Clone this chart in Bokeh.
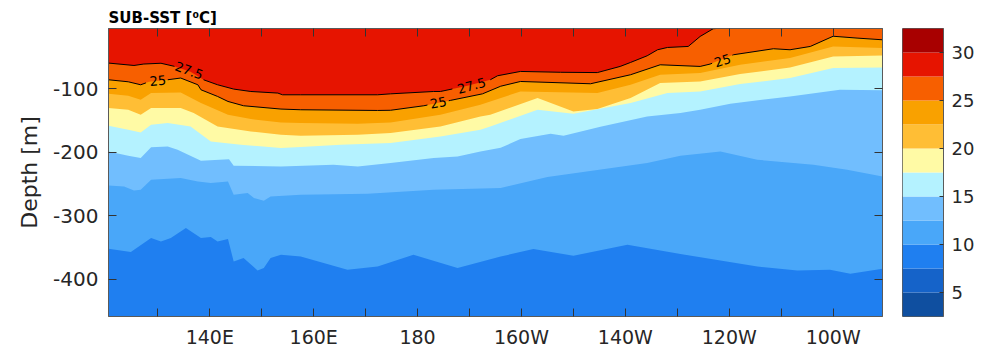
import numpy as np
from bokeh.plotting import figure
from bokeh.models import Range1d, FixedTicker, LinearAxis
from bokeh.layouts import row
from bokeh.embed import file_html
from bokeh.resources import INLINE
from bokeh.core.properties import value

# ---------------- data ----------------
levels = [2.5, 5, 7.5, 10, 12.5, 15, 17.5, 20, 22.5, 25, 27.5, 30, 32.5]
band_colors = ["#0f4fa0", "#1563c9", "#1f7ff0", "#49a7f9", "#71befe", "#b4f2ff",
               "#fffaa5", "#ffbe35", "#f9a100", "#f75f00", "#e61400", "#a80000"]

# depth (m, negative) of each isotherm versus longitude (deg E)
lon_275 = [120.5, 125.4, 127.3, 130.6, 133.1, 136.3, 138.8, 141.5, 144.6, 147.9, 153.1, 154.0,
           157.5, 172.3, 174.8, 183.1, 184.4, 189.6, 194.0, 195.4, 199.8, 207.5, 214.6, 219.0,
           221.0, 224.2, 226.2, 228.1, 232.1, 234.4, 236.9, 237.5]
dep_275 = [-59.5, -63.3, -61.0, -59.8, -64.5, -73.0, -85.8, -93.7, -100.5, -104.3, -106.8, -109.5,
           -109.5, -109.5, -108.0, -104.3, -104.3, -95.3, -85.8, -79.5, -72.7, -74.0, -74.5, -64.8,
           -58.5, -48.0, -38.5, -34.9, -33.3, -17.5, -5.4, -5.0]

lon_25 = [120.5, 124.3, 126.7, 128.3, 131.9, 134.4, 137.7, 138.3, 141.5, 143.5, 146.5, 153.7,
          157.5, 172.3, 174.8, 181.2, 186.3, 192.5, 196.0, 199.8, 213.3, 221.0, 226.7, 234.4,
          236.3, 240.8, 248.5, 251.7, 255.6, 260.0, 264.6, 269.5]
dep_25 = [-85.8, -89.0, -93.7, -89.0, -85.8, -83.1, -93.7, -101.6, -112.1, -120.0, -126.8, -132.0,
          -133.1, -134.2, -133.9, -126.8, -118.4, -108.0, -96.0, -88.5, -92.1, -77.9, -62.2, -64.8,
          -61.1, -46.4, -36.9, -38.5, -33.3, -17.2, -20.1, -22.8]

lon_225 = [120.5, 124.3, 126.7, 128.7, 134.4, 138.3, 143.5, 147.9, 153.7, 157.5, 168.5, 174.8,
           184.4, 192.1, 199.8, 214.6, 221.0, 226.7, 234.4, 242.1, 251.7, 260.0, 269.5]
dep_225 = [-107.9, -111.0, -117.3, -106.8, -105.8, -122.5, -141.0, -147.8, -153.1, -154.1, -155.2,
           -153.1, -141.0, -125.2, -104.3, -106.8, -93.7, -77.9, -75.2, -62.2, -51.6, -33.3, -35.8]

lon_20 = [120.5, 124.3, 126.7, 128.7, 134.4, 136.9, 141.5, 147.9, 153.7, 157.5, 168.5, 174.8,
          184.4, 192.1, 194.0, 203.1, 210.0, 214.6, 221.0, 226.7, 234.4, 242.1, 251.7, 260.0, 269.5]
dep_20 = [-130.4, -133.1, -141.0, -130.4, -130.4, -138.3, -159.4, -167.3, -172.5, -174.1, -172.5,
          -169.8, -159.4, -143.7, -141.0, -114.7, -135.8, -132.0, -114.7, -91.0, -88.5, -76.8,
          -66.4, -49.1, -47.5]

lon_175 = [120.5, 124.3, 126.7, 128.7, 131.9, 136.3, 140.2, 146.0, 153.7, 157.5, 165.2, 174.8,
           184.4, 192.1, 194.0, 203.1, 210.0, 221.0, 228.1, 234.4, 242.1, 251.7, 260.0, 269.5]
dep_175 = [-158.3, -164.6, -168.9, -156.8, -154.1, -159.4, -183.1, -188.3, -193.5, -191.9, -188.3,
           -185.6, -175.2, -164.6, -159.4, -133.1, -139.4, -122.5, -106.8, -104.3, -92.6, -83.1,
           -67.4, -66.4]

lon_15 = [120.5, 124.3, 126.7, 128.7, 131.9, 133.8, 138.3, 143.7, 144.6, 153.7, 163.8, 168.5,
          174.8, 183.1, 187.7, 192.1, 196.0, 199.8, 205.6, 208.1, 215.2, 224.2, 230.6, 234.4,
          240.2, 251.7, 261.3, 269.5]
dep_15 = [-198.8, -205.6, -209.2, -192.2, -191.0, -196.2, -213.5, -211.1, -221.4, -222.5, -219.8,
          -222.5, -217.1, -209.2, -206.7, -198.8, -193.0, -179.3, -170.9, -174.1, -159.9, -143.7,
          -138.3, -133.1, -123.6, -112.1, -101.6, -102.4]

lon_125 = [120.5, 123.5, 125.4, 126.7, 128.7, 134.4, 137.7, 140.2, 143.5, 144.6, 147.3, 148.5,
           150.4, 151.7, 157.5, 170.4, 183.1, 196.0, 205.0, 224.2, 230.6, 238.3, 245.4, 256.2,
           262.7, 269.5]
dep_125 = [-252.4, -254.0, -260.3, -259.2, -243.5, -240.8, -246.1, -248.7, -246.1, -267.1, -264.4,
           -272.3, -276.6, -269.8, -267.1, -265.5, -259.2, -256.5, -239.2, -217.1, -205.6, -198.8,
           -211.9, -219.8, -227.7, -238.3]

lon_10 = [120.5, 124.8, 128.7, 130.6, 132.5, 135.4, 138.3, 140.2, 141.5, 143.5, 144.6, 146.5,
          149.2, 150.4, 151.7, 153.7, 157.5, 166.5, 172.3, 179.2, 187.7, 196.0, 202.3, 210.0,
          220.4, 230.6, 245.4, 253.1, 259.4, 263.3, 269.5]
dep_10 = [-352.2, -357.4, -335.4, -340.7, -335.4, -319.6, -335.4, -333.8, -340.7, -337.0, -372.3,
          -366.9, -386.5, -382.7, -366.9, -361.7, -364.4, -385.3, -380.1, -361.7, -382.7, -364.4,
          -352.7, -363.3, -346.0, -360.6, -380.1, -386.5, -385.3, -391.7, -383.8]

iso_levels = [27.5, 25, 22.5, 20, 17.5, 15, 12.5, 10]
iso_lons = [lon_275, lon_25, lon_225, lon_20, lon_175, lon_15, lon_125, lon_10]
iso_deps = [dep_275, dep_25, dep_225, dep_20, dep_175, dep_15, dep_125, dep_10]

x_major_ticks = [140, 160, 180, 200, 220, 240, 260]
x_minor_ticks = [130, 150, 170, 190, 210, 230, 250]
x_tick_labels = ["140E", "160E", "180", "160W", "140W", "120W", "100W"]
y_ticks = [-400, -300, -200, -100]
y_tick_labels = ["-400", "-300", "-200", "-100"]
cbar_ticks = [5, 10, 15, 20, 25, 30]

clabel_text = ["27.5", "25", "27.5", "25", "25"]
clabel_lon = [136.0, 130.0, 190.4, 184.0, 238.7]
clabel_dep = [-71.6, -87.4, -95.3, -122.0, -55.9]
clabel_angle = [-20, 5, 15, 11, 18]
gaps_275 = [(133.2, 138.8), (186.7, 194.0)]
gaps_25 = [(127.7, 131.9), (181.9, 186.0), (236.7, 240.6)]

X0, X1 = 120.5, 269.5
Y0, Y1 = -459.0, -5.0

FONT = "DejaVu Sans"
TXT = "#262626"
FRAME = "#5a5a5a"
TICK = "#333333"

# ---------------- main figure ----------------
p = figure(width=890, height=350, x_range=Range1d(X0, X1), y_range=Range1d(Y0, Y1),
           toolbar_location=None, output_backend="svg",
           min_border_left=108, min_border_right=8, min_border_top=28, min_border_bottom=33)
p.grid.visible = False
p.outline_line_color = FRAME
p.background_fill_color = "white"

# warmest band fills the whole section, colder bands stacked below each isotherm
p.quad(left=X0, right=X1, bottom=Y0, top=Y1,
       fill_color=band_colors[levels.index(27.5)], line_color=None)
for lev, lo, de in zip(iso_levels, iso_lons, iso_deps):
    xs = list(lo)
    ys = list(de)
    if xs[-1] < X1:
        xs.append(X1); ys.append(ys[-1])
    xs += [X1, X0]
    ys += [Y0, Y0]
    p.patch(xs, ys, fill_color=band_colors[levels.index(lev) - 1], line_color=None)


def split(lon, dep, gaps):
    lon = np.asarray(lon, float)
    dep = np.asarray(dep, float)
    edges = [lon[0]] + [g for gap in gaps for g in gap] + [lon[-1]]
    xs, ys = [], []
    for a, b in zip(edges[0::2], edges[1::2]):
        m = (lon > a) & (lon < b)
        xs.append([a] + list(lon[m]) + [b])
        ys.append([float(np.interp(a, lon, dep))] + list(dep[m]) + [float(np.interp(b, lon, dep))])
    return xs, ys


for lo, de, gp in [(lon_275, dep_275, gaps_275), (lon_25, dep_25, gaps_25)]:
    sx, sy = split(lo, de, gp)
    p.multi_line(sx, sy, line_color="black", line_width=1)

p.text(x=clabel_lon, y=clabel_dep, text=clabel_text,
       angle=[np.deg2rad(a) for a in clabel_angle],
       text_font=value(FONT), text_font_size="13px", text_color="black",
       text_align="center", text_baseline="middle")

# axes
p.xaxis.ticker = FixedTicker(ticks=x_major_ticks, minor_ticks=x_minor_ticks)
p.xaxis.major_label_overrides = dict(zip(x_major_ticks, x_tick_labels))
p.yaxis.ticker = FixedTicker(ticks=y_ticks, minor_ticks=[])
p.yaxis.major_label_overrides = dict(zip(y_ticks, y_tick_labels))
p.yaxis.axis_label = "Depth [m]"
for ax in [p.xaxis[0], p.yaxis[0]]:
    ax.major_tick_in = 8
    ax.major_tick_out = 0
    ax.minor_tick_in = 8
    ax.minor_tick_out = 0
    ax.axis_line_color = FRAME
    ax.major_tick_line_color = TICK
    ax.minor_tick_line_color = TICK
    ax.major_label_text_font = FONT
    ax.major_label_text_color = TXT
p.xaxis.major_label_text_font_size = "19px"
p.xaxis.major_label_standoff = 9
p.yaxis.major_label_text_font_size = "20px"
p.yaxis.major_label_standoff = 10
p.yaxis.axis_label_text_font = FONT
p.yaxis.axis_label_text_font_size = "22px"
p.yaxis.axis_label_text_font_style = "normal"
p.yaxis.axis_label_text_color = TXT
p.yaxis.axis_label_standoff = 8

# mirrored ticks on top and right (unlabelled: drawn as minor ticks)
top_ax = LinearAxis(ticker=FixedTicker(ticks=[], minor_ticks=x_minor_ticks + x_major_ticks),
                    major_label_standoff=0, minor_tick_in=8, minor_tick_out=0,
                    major_tick_line_color=None, minor_tick_line_color=TICK,
                    axis_line_color=FRAME)
right_ax = LinearAxis(ticker=FixedTicker(ticks=[], minor_ticks=y_ticks),
                      major_label_standoff=0, minor_tick_in=8, minor_tick_out=0,
                      major_tick_line_color=None, minor_tick_line_color=TICK,
                      axis_line_color=FRAME)
p.add_layout(top_ax, "above")
p.add_layout(right_ax, "right")

p.title.text = "SUB-SST [\u2070C]"
p.title.text_font = FONT
p.title.text_font_size = "15px"
p.title.text_font_style = "bold"
p.title.text_color = "black"
p.title.align = "left"
p.title.offset = 0
p.title.standoff = 3

# ---------------- colorbar ----------------
cb = figure(width=94, height=350, x_range=Range1d(0, 1), y_range=Range1d(levels[0], levels[-1]),
            toolbar_location=None, output_backend="svg", y_axis_location="right",
            x_axis_location=None,
            min_border_left=12, min_border_right=41, min_border_top=28, min_border_bottom=33)
cb.grid.visible = False
cb.outline_line_color = FRAME
cb.quad(left=0, right=1, bottom=levels[:-1], top=levels[1:], fill_color=band_colors,
        line_color=None)
cb.yaxis.ticker = FixedTicker(ticks=cbar_ticks, minor_ticks=[])
cb.yaxis.major_tick_in = 4
cb.yaxis.major_tick_out = 0
cb.yaxis.axis_line_color = FRAME
cb.yaxis.major_tick_line_color = TICK
cb.yaxis.major_label_text_font = FONT
cb.yaxis.major_label_text_font_size = "18px"
cb.yaxis.major_label_text_color = TXT
cb.yaxis.major_label_standoff = 8

layout = row(p, cb)
open("out.html", "w").write(file_html(layout, INLINE))
